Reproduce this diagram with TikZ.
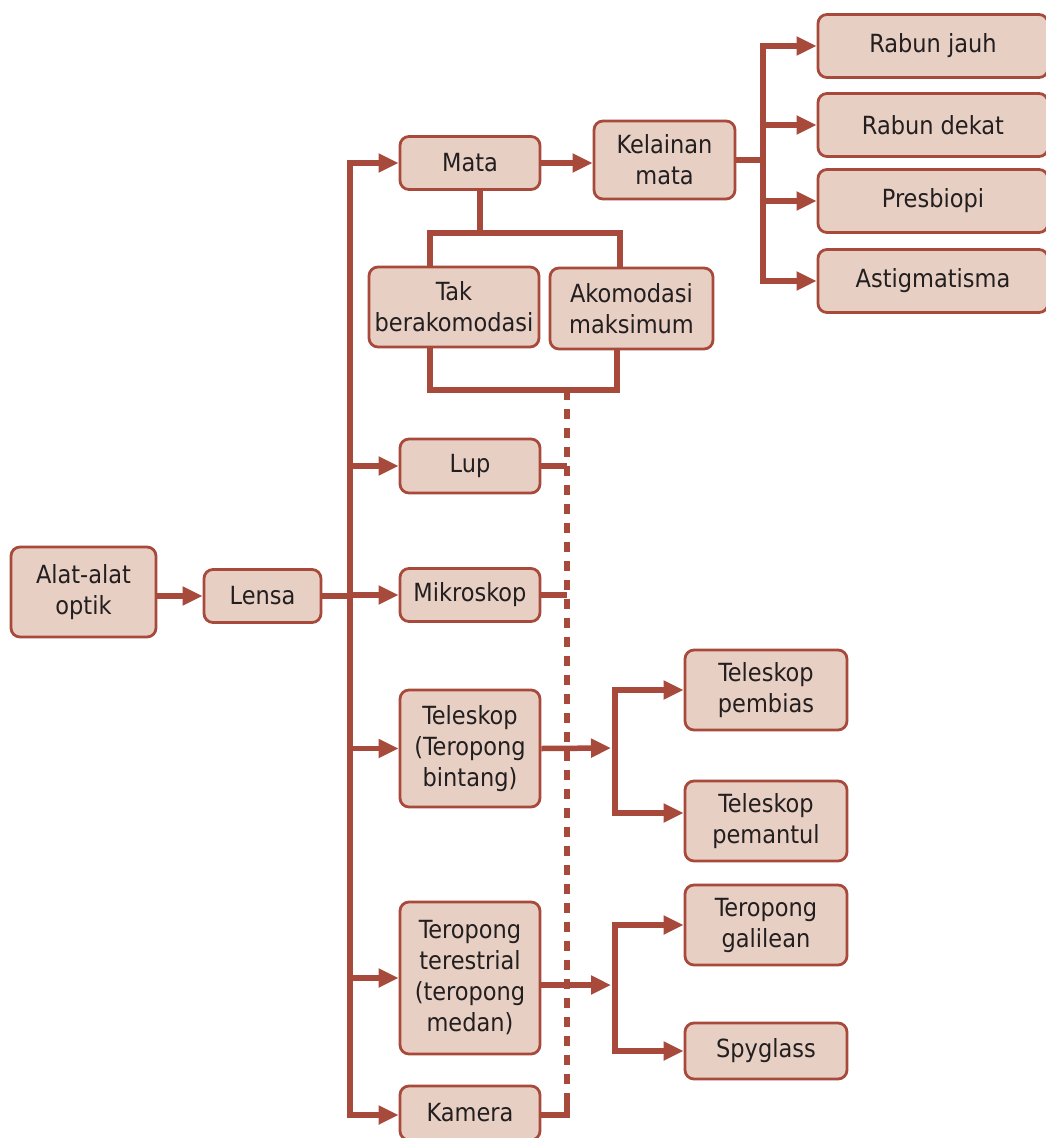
\documentclass[tikz,border=0pt]{standalone}
\usepackage{fontspec}
\setmainfont{DejaVu Sans Condensed}
\usetikzlibrary{arrows.meta}
\definecolor{brd}{HTML}{A84A3B}
\definecolor{fil}{HTML}{E8CFC4}
\definecolor{txt}{HTML}{231F20}
\tikzset{
  box/.style={draw=brd, fill=fil, line width=2.8pt, rounded corners=9pt, align=center, inner sep=0pt, text=txt, font=\fontsize{25}{31}\selectfont},
  conn/.style={draw=brd, line width=5.5pt, line join=miter},
  arr/.style={-{Triangle[length=20pt,width=18pt]}},
  dotl/.style={draw=brd, line width=5.5pt, dash pattern=on 10pt off 9pt}
}
\begin{document}
\begin{tikzpicture}[x=1pt,y=-1pt]
\useasboundingbox (0,0) rectangle (1045,1138);
% nodes
\node[box, minimum width=145pt, minimum height=90pt] (alat) at (83.5,592) {Alat-alat\\optik};
\node[box, minimum width=117pt, minimum height=53pt] (lensa) at (262.5,596) {Lensa};
\node[box, minimum width=140pt, minimum height=53pt] (mata) at (470,163) {Mata};
\node[box, minimum width=141pt, minimum height=78pt] (kel) at (664.5,160) {Kelainan\\mata};
\node[box, minimum width=230pt, minimum height=63pt] (rj) at (933,46) {Rabun jauh};
\node[box, minimum width=230pt, minimum height=63pt] (rd) at (933,125) {Rabun dekat};
\node[box, minimum width=230pt, minimum height=63pt] (pr) at (933,201) {Presbiopi};
\node[box, minimum width=230pt, minimum height=63pt] (as) at (933,281) {Astigmatisma};
\node[box, minimum width=170pt, minimum height=80pt] (tak) at (454,307) {Tak\\berakomodasi};
\node[box, minimum width=163pt, minimum height=81pt] (akm) at (631.5,308.5) {Akomodasi\\maksimum};
\node[box, minimum width=140pt, minimum height=54pt] (lup) at (470,466) {Lup};
\node[box, minimum width=140pt, minimum height=53pt] (mik) at (470,595) {Mikroskop};
\node[box, minimum width=140pt, minimum height=117pt] (tel) at (470,748.5) {Teleskop\\(Teropong\\bintang)};
\node[box, minimum width=162pt, minimum height=80pt] (tpb) at (766,690) {Teleskop\\pembias};
\node[box, minimum width=162pt, minimum height=80pt] (tpm) at (766,821) {Teleskop\\pemantul};
\node[box, minimum width=140pt, minimum height=152pt] (ter) at (470,978) {Teropong\\terestrial\\(teropong\\medan)};
\node[box, minimum width=162pt, minimum height=80pt] (gal) at (766,925) {Teropong\\galilean};
\node[box, minimum width=162pt, minimum height=56pt] (spy) at (766,1051) {Spyglass};
\node[box, minimum width=140pt, minimum height=54pt] (kam) at (470,1113) {Kamera};
% coordinates
\coordinate (t1) at (350,163);
\coordinate (t6) at (350,1115);
\coordinate (r1) at (763,160);
\coordinate (mj) at (480,233);
\coordinate (bj) at (567,390);
\coordinate (b1) at (615,748);
\coordinate (b2) at (615,985);
% connectors
\draw[conn,arr] (alat.east |- lensa.west) -- (lensa.west);
\draw[conn] (lensa.east) -- (lensa.east -| t1);
\draw[conn,arr] (t6) |- (mata.west);
\draw[conn,arr] (t1) |- (kam.west |- t6);
\draw[conn,arr] (t1 |- lup.west) -- (lup.west);
\draw[conn,arr] (t1 |- mik.west) -- (mik.west);
\draw[conn,arr] (t1 |- tel.west) -- (tel.west);
\draw[conn,arr] (t1 |- ter.west) -- (ter.west);
\draw[conn,arr] (mata.east) -- (mata.east -| kel.west);
\draw[conn] (kel.east |- r1) -- (r1);
\draw[conn,arr] (763,283) |- (rj.west);
\draw[conn,arr] (763,47) |- (rd.west);
\draw[conn,arr] (r1) |- (pr.west);
\draw[conn,arr] (r1) |- (as.west);
% mata split
\draw[conn] (mata.south -| mj) -- (mj);
\draw[conn] (tak.north -| 430,0) |- (620,233) -- (akm.north -| 620,0);
% bottom bracket
\draw[conn] (tak.south -| 430,0) |- (617,390) -- (akm.south -| 617,0);
\draw[dotl] (bj) -- (bj |- t6);
\draw[conn] (lup.east) -- (lup.east -| bj);
\draw[conn] (mik.east) -- (mik.east -| bj);
\draw[conn] (kam.east |- t6) -- (bj |- t6) -- (567,1100);
% teleskop branch
\draw[conn,arr] (tel.east) -- (611,748);
\draw[conn,arr] (b1) |- (tpb.west);
\draw[conn,arr] (b1) |- (tpm.west |- 0,813);
% terestrial branch
\draw[conn,arr] (ter.east |- b2) -- (611,985);
\draw[conn,arr] (b2) |- (gal.west);
\draw[conn,arr] (b2) |- (spy.west);
\end{tikzpicture}
\end{document}
